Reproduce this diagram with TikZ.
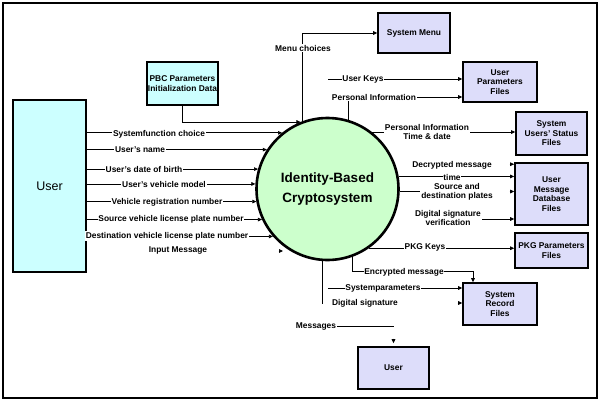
\documentclass[tikz,border=0pt]{standalone}
\usepackage{fontspec}
\setmainfont{Liberation Sans}
\usetikzlibrary{arrows.meta}
\usetikzlibrary{calc}

\definecolor{usercyan}{RGB}{204,255,255}
\definecolor{filelav}{RGB}{221,221,250}
\definecolor{ibcgreen}{RGB}{204,255,204}

\newcommand{\lblfont}{\fontsize{8.4}{9.6}\selectfont\bfseries}

\tikzset{
    userbox/.style={draw, line width=1.6pt, fill=usercyan, inner sep=0pt, align=center},
    filebox/.style={draw, line width=1.6pt, fill=filelav, inner sep=0pt, align=center, font=\lblfont},
    lbl/.style={fill=white, inner sep=0.8pt, align=center, font=\lblfont},
    flow/.style={-{Triangle[length=4pt,width=3.6pt]}, line width=0.7pt},
    bare/.style={line width=0.7pt}
}

\begin{document}
\begin{tikzpicture}[x=1pt, y=-1pt]
        \useasboundingbox (0,0) rectangle (600,402);
        \fill[white] (0,0) rectangle (600,402);

        % Outer frame
        \draw[line width=1.5pt] (3,3) rectangle (597,398);

        % Entities, process and stores
        \node[userbox, minimum width=73pt, minimum height=172pt, font=\fontsize{12.5}{14}\selectfont] (user) at (49.5,186) {User};
        \node[userbox, minimum width=71pt, minimum height=43pt, font=\lblfont] (pbc) at (182.5,83.5) {PBC Parameters\\Initialization Data};
        \node[circle, draw, line width=2.6pt, fill=ibcgreen, minimum size=142pt, inner sep=0pt, align=center,
              font=\fontsize{13.5}{20}\selectfont\bfseries] (ibc) at (327.5,189) {Identity-Based\\Cryptosystem};

        \node[filebox, minimum width=72pt, minimum height=40pt] (menu) at (414,33) {System Menu};
        \node[filebox, minimum width=74pt, minimum height=40pt] (upar) at (500,82) {User\\Parameters\\Files};
        \node[filebox, minimum width=71pt, minimum height=43pt] (ustat) at (551.5,133.5) {System\\Users' Status\\Files};
        \node[filebox, minimum width=73pt, minimum height=62pt] (umsg) at (551.5,194) {User\\Message\\Database\\Files};
        \node[filebox, minimum width=73pt, minimum height=35pt] (pkg) at (551.5,250.5) {PKG Parameters\\Files};
        \node[filebox, minimum width=74pt, minimum height=42pt] (srec) at (500,304) {System\\Record\\Files};
        \node[filebox, minimum width=71pt, minimum height=42pt] (user2) at (393.5,368) {User};

        % Inputs from the user
        \foreach \a in {129,147,164,176,190,205,221} {
            \draw[flow] (user.east |- ibc.\a) -- (ibc.\a);
        }
        \coordinate (inmsgtip) at (283,251);
        \draw[flow] ([xshift=-4.5pt]inmsgtip) -- (inmsgtip);

        % PBC data and menu
        \draw[flow] (pbc.south) |- (ibc.112);
        \draw[flow] (ibc.110) |- (menu.west);

        % Flows to the stores
        \coordinate (ukeysstart) at (328,79);
        \draw[flow] (ukeysstart) -- (ukeysstart -| upar.west);
        \draw[flow] (ibc.73) |- ([yshift=-15pt]upar.west);
        \draw[flow] (ibc.52) -- (ibc.52 -| ustat.west);

        \draw[flow] ([xshift=-4.5pt,yshift=-2pt]umsg.north west) -- ([yshift=-2pt]umsg.north west);
        \draw[flow] (ibc.10) -- (ibc.10 -| umsg.west);
        \coordinate (platesin) at (ibc.-2 -| umsg.west);
        \draw[flow] ([xshift=-4.5pt]platesin) -- (platesin);
        \draw[flow] ([xshift=-38pt,yshift=-25pt]umsg.west) -- ([yshift=-25pt]umsg.west);

        \draw[flow] (ibc.-55) -- (ibc.-55 -| pkg.west);

        \coordinate (encrcorner) at ([xshift=-27pt,yshift=11pt]srec.north);
        \draw[flow] (ibc.-70) |- (encrcorner) -- (encrcorner |- srec.north);
        \draw[flow] ([xshift=-134pt,yshift=16pt]srec.west) -- ([yshift=16pt]srec.west);
        \draw[flow] ([xshift=-4.5pt,yshift=1pt]srec.west) -- ([yshift=1pt]srec.west);
        \draw[bare] (ibc.-94) -- ++(0,43);

        % Labels
        \node[lbl] (sysfun) at (159,134) {Systemfunction choice};
        \node[lbl] (uname) at (140,150) {User's name};
        \node[lbl] (udob) at (144,169) {User's date of birth};
        \node[lbl] (umodel) at (164,184) {User's vehicle model};
        \node[lbl] (vreg) at (167,202) {Vehicle registration number};
        \node[lbl] (srcplate) at (171,219) {Source vehicle license plate number};
        \node[lbl] (dstplate) at (167,236) {Destination vehicle license plate number};
        \node[lbl] (inmsg) at (178,250) {Input Message};

        \node[lbl] (menuch) at (303,48) {Menu choices};
        \node[lbl] (ukeys) at (363,79) {User Keys};
        \node[lbl] (pinfo) at (374,97) {Personal Information};
        \node[lbl] (pinfotime) at (427,132) {Personal Information\\Time \& date};
        \node[lbl] (decr) at (452,165) {Decrypted message};
        \node[lbl] (time) at (452,177) {time};
        \node[lbl] (plates) at (457,192) {Source and\\destination plates};
        \draw[bare] (ibc.-2) -- (ibc.-2 -| plates.west);
        \node[lbl] (dsigv) at (448,218) {Digital signature\\verification};
        \node[lbl] (pkgkeys) at (425,247) {PKG Keys};
        \node[lbl] (encr) at (404,272) {Encrypted message};
        \node[lbl] (syspar) at (383,288) {Systemparameters};
        \node[lbl] (dsig) at (365,303) {Digital signature};

        % Output to the user
        \node[lbl] (msgs) at (316,326) {Messages};
        \draw[bare] (msgs.east) -- (msgs.east -| user2.north);
        \draw[flow] ([yshift=7.5pt]user2.north) -- ([yshift=3pt]user2.north);
    \end{tikzpicture}
\end{document}
